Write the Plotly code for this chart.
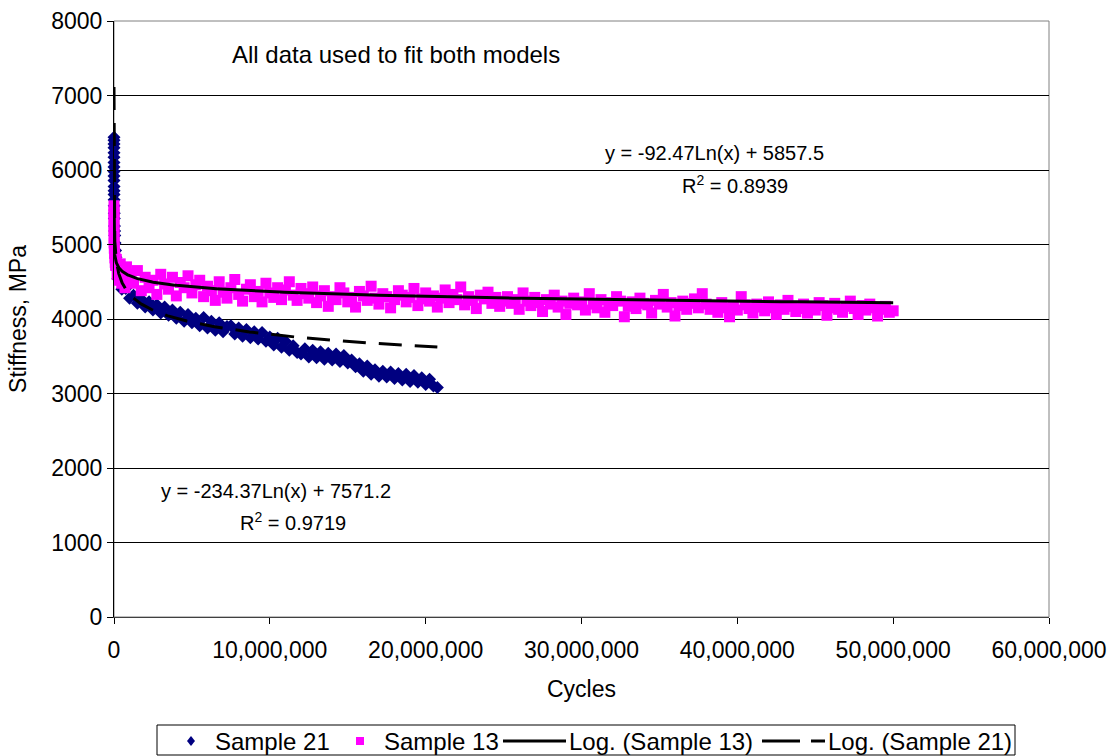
import numpy as np
import plotly.graph_objects as go

# ---------------- DATA ----------------
# Sample 21 (navy diamonds): first cycles, then readings in millions of cycles
s21_cycles_early = [7, 20, 50, 100, 200, 300, 500, 750, 1000, 1500, 2000, 3000, 4000, 5000, 7000,
                    10000, 15000, 20000, 30000, 40000, 50000, 70000, 100000, 130000, 160000, 200000]
s21_stiff_early = [6440, 6400, 6350, 6300, 6230, 6170, 6100, 6040, 5980, 5920, 5860, 5780, 5720, 5670,
                   5600, 5520, 5420, 5350, 5250, 5180, 5120, 5020, 4920, 4830, 4750, 4660]
s21_cycles_mil = [0.25, 0.5, 0.75, 1.0, 1.25, 1.5, 1.75, 2.0, 2.25, 2.5, 2.75, 3.0, 3.25, 3.5, 3.75,
                  4.0, 4.25, 4.5, 4.75, 5.0, 5.25, 5.5, 5.75, 6.0, 6.25, 6.5, 6.75, 7.0, 7.25, 7.5,
                  7.75, 8.0, 8.25, 8.5, 8.75, 9.0, 9.25, 9.5, 9.75, 10.0, 10.25, 10.5, 10.75, 11.0,
                  11.25, 11.5, 11.75, 12.0, 12.25, 12.5, 12.75, 13.0, 13.25, 13.5, 13.75, 14.0,
                  14.25, 14.5, 14.75, 15.0, 15.25, 15.5, 15.75, 16.0, 16.25, 16.5, 16.75, 17.0,
                  17.25, 17.5, 17.75, 18.0, 18.25, 18.5, 18.75, 19.0, 19.25, 19.5, 19.75, 20.0,
                  20.25, 20.5, 20.75]
s21_stiff = [4540, 4400, 4410, 4280, 4320, 4210, 4270, 4160, 4230, 4120, 4190, 4080, 4160, 4050, 4120,
             4010, 4090, 3970, 4060, 3950, 4010, 3910, 4020, 3880, 3970, 3850, 3950, 3830, 3900, 3910,
             3800, 3880, 3770, 3860, 3750, 3830, 3730, 3820, 3700, 3760, 3650, 3740, 3620, 3700,
             3580, 3640, 3550, 3530, 3600, 3490, 3580, 3480, 3560, 3460, 3540, 3450,
             3530, 3430, 3510, 3410, 3450, 3360, 3400, 3300, 3370, 3260, 3320, 3230,
             3300, 3220, 3290, 3200, 3270, 3180, 3260, 3160, 3240, 3150, 3210, 3120,
             3190, 3100, 3080]

# Sample 13 (magenta squares)
s13_cycles_early = [10, 50, 100, 300, 1000, 2000, 5000, 10000, 20000, 40000, 60000, 80000, 100000,
                    150000, 200000, 250000, 300000, 400000, 500000, 600000, 700000, 800000, 900000]
s13_stiff_early = [5520, 5450, 5400, 5330, 5250, 5180, 5100, 5020, 4950, 4880, 4820, 4760, 4720,
                   4800, 4600, 4700, 4520, 4740, 4480, 4650, 4420, 4700, 4550]
s13_cycles_mil = [1.0, 1.25, 1.5, 1.75, 2.0, 2.25, 2.5, 2.75, 3.0, 3.25, 3.5, 3.75, 4.0, 4.25, 4.5,
                  4.75, 5.0, 5.25, 5.5, 5.75, 6.0, 6.25, 6.5, 6.75, 7.0, 7.25, 7.5, 7.75, 8.0, 8.25,
                  8.5, 8.75, 9.0, 9.25, 9.5, 9.75, 10.0, 10.25, 10.5, 10.75, 11.0, 11.25, 11.5, 11.75,
                  12.0, 12.25, 12.5, 12.75, 13.0, 13.25, 13.5, 13.75, 14.0, 14.25, 14.5, 14.75, 15.0,
                  15.25, 15.5, 15.75, 16.0, 16.25, 16.5, 16.75, 17.0, 17.25, 17.5, 17.75, 18.0, 18.25,
                  18.5, 18.75, 19.0, 19.25, 19.5, 19.75, 20.0, 20.25, 20.5, 20.75, 21.0, 21.25, 21.5,
                  21.75, 22.0, 22.25, 22.5, 22.75, 23.0, 23.25, 23.5, 23.75, 24.0, 24.25, 24.5, 24.75,
                  25.0, 25.25, 25.5, 25.75, 26.0, 26.25, 26.5, 26.75, 27.0, 27.25, 27.5, 27.75, 28.0,
                  28.25, 28.5, 28.75, 29.0, 29.25, 29.5, 29.75, 30.0, 30.25, 30.5, 30.75, 31.0, 31.25,
                  31.5, 31.75, 32.0, 32.25, 32.5, 32.75, 33.0, 33.25, 33.5, 33.75, 34.0, 34.25, 34.5,
                  34.75, 35.0, 35.25, 35.5, 35.75, 36.0, 36.25, 36.5, 36.75, 37.0, 37.25, 37.5, 37.75,
                  38.0, 38.25, 38.5, 38.75, 39.0, 39.25, 39.5, 39.75, 40.0, 40.25, 40.5, 40.75, 41.0,
                  41.25, 41.5, 41.75, 42.0, 42.25, 42.5, 42.75, 43.0, 43.25, 43.5, 43.75, 44.0, 44.25,
                  44.5, 44.75, 45.0, 45.25, 45.5, 45.75, 46.0, 46.25, 46.5, 46.75, 47.0, 47.25, 47.5,
                  47.75, 48.0, 48.25, 48.5, 48.75, 49.0, 49.25, 49.5, 49.75, 50.0]
s13_stiff = [4600, 4480, 4650, 4380, 4560, 4420, 4520, 4330, 4600, 4470, 4400, 4560, 4310, 4490, 4420,
             4580, 4350, 4460, 4520,
             4300, 4440, 4380, 4250, 4500, 4360, 4280, 4420, 4530, 4330, 4240, 4400, 4460, 4300,
             4370, 4230, 4480, 4350, 4290, 4420, 4260, 4390, 4500, 4320, 4250, 4410,
             4340, 4280, 4430, 4220, 4310, 4380, 4170, 4300, 4260, 4420, 4350, 4230, 4290, 4160,
             4370, 4310, 4250, 4440, 4280, 4200, 4340, 4300, 4150, 4260, 4380, 4320, 4230, 4290,
             4410, 4180, 4270, 4350, 4240, 4310, 4160, 4280, 4390, 4220, 4330, 4260, 4430, 4190,
             4300, 4250, 4140, 4320, 4270, 4360, 4210, 4290, 4170, 4240,
             4300, 4210, 4260, 4130, 4350, 4240, 4180, 4290, 4220, 4100, 4260, 4200, 4320, 4160,
             4240, 4060, 4210, 4280, 4190, 4230, 4120, 4340, 4200, 4150, 4260, 4090, 4220, 4180,
             4300, 4240, 4030, 4170, 4230, 4140, 4280, 4210, 4190, 4080, 4250, 4200, 4330, 4160,
             4220, 4040, 4180, 4240, 4130, 4210, 4270, 4150,
             4340, 4200, 4130, 4180, 4090, 4220, 4150, 4030, 4170, 4120, 4300, 4190, 4140, 4080,
             4200, 4160, 4110, 4230, 4150, 4060, 4190, 4130, 4250, 4170, 4100, 4140, 4200, 4080,
             4160, 4120, 4220, 4180, 4050, 4150, 4210, 4130, 4090, 4170, 4240, 4140, 4060, 4180,
             4120, 4200, 4150, 4040, 4130, 4170, 4090, 4110]

# Logarithmic trend-line coefficients shown on the chart: y = a*Ln(x) + b
fit13_a, fit13_b, fit13_r2 = -92.47, 5857.5, 0.8939
fit21_a, fit21_b, fit21_r2 = -234.37, 7571.2, 0.9719

series_names = ["Sample 21", "Sample 13", "Log. (Sample 13)", "Log. (Sample 21)"]
x_tick_vals = [0, 10000000, 20000000, 30000000, 40000000, 50000000, 60000000]
y_tick_vals = [0, 1000, 2000, 3000, 4000, 5000, 6000, 7000, 8000]

# ---------------- BUILD ----------------
x21 = s21_cycles_early + [v * 1e6 for v in s21_cycles_mil]
y21 = s21_stiff_early + s21_stiff
x13 = s13_cycles_early + [v * 1e6 for v in s13_cycles_mil]
y13 = s13_stiff_early + s13_stiff

tx13 = np.geomspace(min(x13), max(x13), 600)
ty13 = fit13_a * np.log(tx13) + fit13_b
tx21 = np.geomspace(min(x21), max(x21), 600)
ty21 = fit21_a * np.log(tx21) + fit21_b

FONT = "Arial, Liberation Sans, sans-serif"
FS_AX = 23
FS_TITLE = 24
FS_EQ = 20
FS_LEG = 24
NAVY = "#000080"
MAGENTA = "#FF00FF"

L, R, T, B = 114, 64, 21, 139
W, H = 1113, 756
PW, PH = W - L - R, H - T - B


def px(xp):
    return (xp - L) / PW


def py(yp):
    return (H - B - yp) / PH


fig = go.Figure()
fig.add_trace(go.Scatter(x=x21, y=y21, mode="markers", name=series_names[0], cliponaxis=False,
                         marker=dict(symbol="diamond", size=10, color=NAVY, line=dict(width=0))))
fig.add_trace(go.Scatter(x=x13, y=y13, mode="markers", name=series_names[1], cliponaxis=False,
                         marker=dict(symbol="square", size=11, color=MAGENTA, line=dict(width=0))))
fig.add_trace(go.Scatter(x=tx13, y=ty13, mode="lines", name=series_names[2],
                         line=dict(color="black", width=3)))
fig.add_trace(go.Scatter(x=tx21, y=ty21, mode="lines", name=series_names[3],
                         line=dict(color="black", width=3, dash="23px,13px")))

fig.update_xaxes(range=[0, 60000000], tickvals=x_tick_vals, tickformat=",d",
                 showgrid=False, zeroline=False, showline=True, linecolor="#404040",
                 linewidth=1, ticks="outside", ticklen=6, tickcolor="black",
                 ticklabelstandoff=6,
                 tickfont=dict(family=FONT, size=FS_AX, color="black"),
                 title=dict(text="Cycles", font=dict(family=FONT, size=FS_AX, color="black"),
                            standoff=19))
fig.update_yaxes(range=[0, 8000], tickvals=y_tick_vals, showgrid=True, gridcolor="black",
                 gridwidth=1, zeroline=False, showline=True, linecolor="black", linewidth=1,
                 ticks="outside", ticklen=6, tickcolor="black",
                 tickfont=dict(family=FONT, size=FS_AX, color="black"),
                 title=dict(text="Stiffness, MPa", font=dict(family=FONT, size=FS_AX, color="black"),
                            standoff=18))

ann_font = dict(family=FONT, size=FS_TITLE, color="black")
eq_font = dict(family=FONT, size=FS_EQ, color="black")
leg_font = dict(family=FONT, size=FS_LEG, color="black")


def txt(text, xp, yp, font, anchor="center"):
    return dict(text=text, x=px(xp), y=py(yp), xref="paper", yref="paper", showarrow=False,
                font=font, xanchor=anchor, yanchor="middle")


LEG_Y = 741
annotations = [
    txt("All data used to fit both models", 396, 55, ann_font),
    txt(f"y = {fit13_a}Ln(x) + {fit13_b}", 714, 153, eq_font),
    txt(f"R<sup>2</sup> = {fit13_r2}", 735, 184, eq_font),
    txt(f"y = {fit21_a}Ln(x) + {fit21_b}", 276, 491, eq_font),
    txt(f"R<sup>2</sup> = {fit21_r2}", 293, 521, eq_font),
    # legend labels
    txt(series_names[0], 213, LEG_Y, leg_font, "left"),
    txt(series_names[1], 382, LEG_Y, leg_font, "left"),
    txt(series_names[2], 567, LEG_Y, leg_font, "left"),
    txt(series_names[3], 826, LEG_Y, leg_font, "left"),
]


def diamond(cx, cy, w, h):
    return (f"M {px(cx)},{py(cy - h)} L {px(cx + w)},{py(cy)} L {px(cx)},{py(cy + h)} "
            f"L {px(cx - w)},{py(cy)} Z")


shapes = [
    dict(type="rect", xref="paper", yref="paper", x0=0, x1=1, y0=0, y1=1,
         line=dict(color="#808080", width=1), layer="below"),
    # legend frame
    dict(type="rect", xref="paper", yref="paper", x0=px(157), x1=px(1015),
         y0=py(755), y1=py(725), line=dict(color="black", width=1),
         fillcolor="rgba(0,0,0,0)"),
    # legend symbols
    dict(type="path", xref="paper", yref="paper", path=diamond(191, LEG_Y, 4, 5),
         fillcolor=NAVY, line=dict(width=0)),
    dict(type="rect", xref="paper", yref="paper", x0=px(356), x1=px(364),
         y0=py(LEG_Y + 4), y1=py(LEG_Y - 4), fillcolor=MAGENTA, line=dict(width=0)),
    dict(type="line", xref="paper", yref="paper", x0=px(503), x1=px(566),
         y0=py(LEG_Y), y1=py(LEG_Y), line=dict(color="black", width=3)),
    dict(type="line", xref="paper", yref="paper", x0=px(762), x1=px(800),
         y0=py(LEG_Y), y1=py(LEG_Y), line=dict(color="black", width=3)),
    dict(type="line", xref="paper", yref="paper", x0=px(811), x1=px(825),
         y0=py(LEG_Y), y1=py(LEG_Y), line=dict(color="black", width=3)),
]

fig.update_layout(
    width=W, height=H,
    margin=dict(l=L, r=R, t=T, b=B, autoexpand=False),
    paper_bgcolor="white", plot_bgcolor="white",
    showlegend=False,
    annotations=annotations,
    shapes=shapes,
)

fig.write_html("out.html")
